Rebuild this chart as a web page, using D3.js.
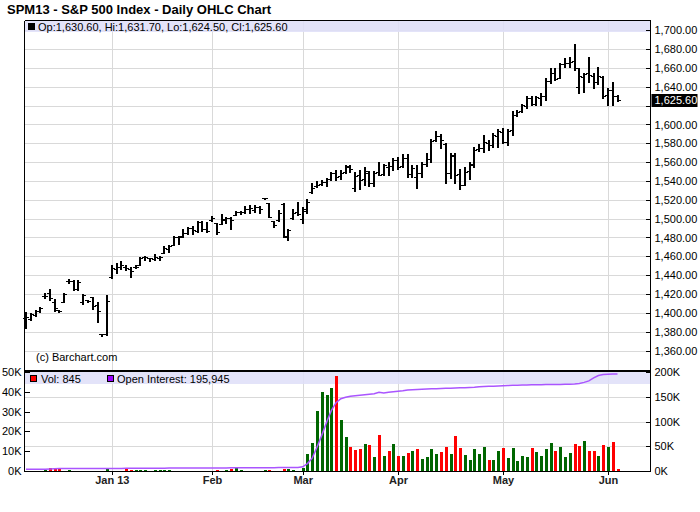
<!DOCTYPE html>
<html><head><meta charset="utf-8">
<script src="https://cdn.jsdelivr.net/npm/d3@7"></script>
<style>
body{margin:0;background:#fff}
svg{display:block}
text{font-family:"Liberation Sans",Arial,Helvetica,sans-serif;}
</style>
</head><body>
<svg id="chart" width="700" height="512"></svg>
<script>
const title = "SPM13 - S&P 500 Index - Daily OHLC Chart";

const dates = [
"2012-12-05","2012-12-06","2012-12-07","2012-12-10","2012-12-11","2012-12-12","2012-12-13","2012-12-14","2012-12-17","2012-12-18","2012-12-19","2012-12-20","2012-12-21","2012-12-24","2012-12-26","2012-12-27","2012-12-28","2012-12-31",
"2013-01-02","2013-01-03","2013-01-04","2013-01-07","2013-01-08","2013-01-09","2013-01-10","2013-01-11","2013-01-14","2013-01-15","2013-01-16","2013-01-17","2013-01-18","2013-01-22","2013-01-23","2013-01-24","2013-01-25","2013-01-28","2013-01-29","2013-01-30","2013-01-31",
"2013-02-01","2013-02-04","2013-02-05","2013-02-06","2013-02-07","2013-02-08","2013-02-11","2013-02-12","2013-02-13","2013-02-14","2013-02-15","2013-02-19","2013-02-20","2013-02-21","2013-02-22","2013-02-25","2013-02-26","2013-02-27","2013-02-28",
"2013-03-01","2013-03-04","2013-03-05","2013-03-06","2013-03-07","2013-03-08","2013-03-11","2013-03-12","2013-03-13","2013-03-14","2013-03-15","2013-03-18","2013-03-19","2013-03-20","2013-03-21","2013-03-22","2013-03-25","2013-03-26","2013-03-27","2013-03-28",
"2013-04-01","2013-04-02","2013-04-03","2013-04-04","2013-04-05","2013-04-08","2013-04-09","2013-04-10","2013-04-11","2013-04-12","2013-04-15","2013-04-16","2013-04-17","2013-04-18","2013-04-19","2013-04-22","2013-04-23","2013-04-24","2013-04-25","2013-04-26","2013-04-29","2013-04-30",
"2013-05-01","2013-05-02","2013-05-03","2013-05-06","2013-05-07","2013-05-08","2013-05-09","2013-05-10","2013-05-13","2013-05-14","2013-05-15","2013-05-16","2013-05-17","2013-05-20","2013-05-21","2013-05-22","2013-05-23","2013-05-24","2013-05-28","2013-05-29","2013-05-30","2013-05-31",
"2013-06-03","2013-06-04","2013-06-05"];

const opens = [1395,1393,1398,1402,1418,1421,1412,1402.5,1412,1434,1434,1425,1411,1414,1417,1408,1377.5,1377,
1438,1447,1449,1449,1447,1449,1451,1459,1458.5,1457,1458,1464,1468,1472,1480,1482,1485,1490,1487,1496,1489,
1499,1495,1494,1500,1501,1504,1507,1507,1510,1509,1512,1521.5,1516.5,1497,1499,1516,1482,1501,1507,
1500,1508,1528,1535,1537,1539,1542,1549,1545,1550,1555,1533,1546,1542,1549,1538,1550,1547,1555,1556,
1562,1556,1564,1547,1544,1548,1558,1563,1583,1588,1579,1549,1567,1547,1536,1551,1558,1574,1575,1580,1578,1588,
1592,1581,1594,1610,1614,1620,1628,1622,1628,1630,1646,1655,1649,1664,1665,1667,1640,1650,1655,1651,1645,1650,
1631,1637,1630.6];
const highs = [1401,1400,1403,1406,1421,1425,1415,1402.5,1421,1435.5,1435,1434.5,1420.5,1414,1417,1411.5,1378,1418.5,
1450.5,1453,1455,1450.5,1448.5,1450.5,1459,1460,1458.5,1462,1460,1471,1471.5,1482,1482,1488.5,1491,1492,1497.5,1497.5,1496.5,
1502.5,1495,1504.5,1502,1502,1508.5,1508.5,1513,1514.5,1514,1513,1521.5,1517,1498,1509,1517,1489.5,1510.5,1518,
1512,1520.5,1537.5,1540,1541,1543,1550,1551.5,1551.5,1557.5,1557.5,1550,1551.5,1555,1550.5,1550.5,1560.5,1558.5,1560,1564,
1565.5,1568.5,1568.5,1557.5,1557,1560.5,1570,1584.5,1593,1590,1580,1570,1569.5,1553,1555,1560.5,1576.5,1579,1589,1583.5,1590.5,1595,
1596,1595,1614.5,1615.5,1621.5,1630.5,1630.5,1630.5,1633,1649,1660,1660,1665,1671,1672,1685,1660,1654.5,1672,1654.5,1661,1651,
1638.5,1645.5,1631.7];
const lows = [1384,1392,1397,1401,1415.5,1414,1401.5,1400.5,1411.5,1432,1424.5,1424.5,1409.5,1411.5,1404,1390,1375,1376,
1437.5,1442,1447,1446,1438,1448,1450.5,1456.5,1455,1456.5,1456,1463.5,1464.5,1471.5,1473.5,1480.5,1483.5,1484,1486,1486.5,1486,
1498,1484,1494,1495,1489.5,1503.5,1505,1506,1506.5,1507,1506.5,1521,1501.5,1491,1498,1480.5,1477,1500,1503.5,
1495,1506,1527,1534,1535.5,1535,1541,1541,1542.5,1549,1549.5,1529,1532,1535.5,1535,1535,1546,1546,1546,1551.5,
1553,1555,1544.5,1544.5,1532.5,1544.5,1556,1560.5,1582,1575,1538,1543,1538,1532,1535.5,1542.5,1555,1572,1571,1573,1576.5,1576.5,
1580.5,1578,1589,1608.5,1613,1618,1620.5,1620.5,1620.5,1626,1644,1647,1649,1660.5,1661.5,1658,1633,1635,1645.5,1638.5,1643,1628.5,
1620.5,1620.5,1624.5];
const closes = [1396,1399,1402,1405,1418,1416,1405,1401.5,1420,1434,1425,1433,1419,1413,1407,1402,1377.5,1413,
1448,1448.5,1450.5,1448,1444,1449,1458,1459,1458,1459,1459.5,1469,1471,1480,1481,1485,1490,1488,1496,1489,1487,
1501,1486,1499,1501,1499,1507,1507.5,1510,1511,1512,1510,1521.5,1502,1493,1506,1481,1488,1506,1505,
1510,1518,1533,1536,1539,1542,1549,1544,1549,1556,1553,1545,1541,1551,1538,1549,1546.5,1557,1556,1562,
1555,1564,1547,1554,1548,1558,1563,1582,1588,1584,1548,1568,1546,1536,1550,1557,1573,1574.5,1581,1578,1589,1593,
1581,1593,1610,1613,1621,1628,1622,1629,1630,1646,1655,1648,1664,1665,1666,1660,1652,1654,1653,1645,1651,1630,
1637,1630.5,1625.6];
const volumes = [0,0,0,0,500,1500,1500,1500,0,500,0,0,0,0,0,0,0,1000,
0,0,0,1000,500,500,500,500,0,500,500,500,500,0,0,0,0,0,0,0,0,
0,500,0,500,1200,1500,500,0,0,0,0,500,500,0,0,1000,1000,500,0,
1700,8600,14300,30300,40000,38400,42000,48000,25800,17000,12000,10600,11000,13600,13100,7200,18200,7400,10100,13600,
7400,7400,9300,10100,11000,6000,7200,11000,8600,9600,12000,8600,17700,11800,8100,5600,11000,8600,12000,5800,5600,10100,
11800,6400,11500,5000,7400,7200,11500,9600,7400,10900,14000,10100,12000,7000,9000,13600,12600,15100,10100,10100,7400,13100,
12000,14500,845];
const openInterest = [3400,3400,3400,3500,3500,3900,4400,4800,4800,4900,4900,4900,4900,4900,4900,4900,4900,5300,
5300,5300,5300,5400,5500,5500,5500,5500,5500,5600,5700,5800,5900,5900,5900,5900,5900,5900,5900,5900,5900,
6000,6000,6000,6200,6500,6800,6800,6800,6800,6800,6800,6800,6800,6800,6900,7000,7000,7000,7200,
8500,15000,26000,48000,72000,98000,122000,138000,146000,149000,151000,152000,153000,154000,155000,156000,159000,157500,159000,160000,
161000,162000,163500,164000,164500,165000,165500,166000,166000,166500,167000,167000,167500,168000,168000,168500,169000,170000,170500,171000,171000,171500,
172000,172500,173000,173000,173500,173500,174000,174000,174000,174500,175000,175000,175000,175500,175500,176000,177000,179000,182000,188000,193000,195000,
195500,196000,195945];

const priceTicks = [1360,1380,1400,1420,1440,1460,1480,1500,1520,1540,1560,1580,1600,1620,1640,1660,1680,1700];
const volTicks = [0,10000,20000,30000,40000,50000];
const oiTicks = [0,50000,100000,150000,200000];
const monthTicks = ["2013-01-02","2013-02-01","2013-03-01","2013-04-01","2013-05-01","2013-06-03"];
const monthLabels = ["Jan 13","Feb","Mar","Apr","May","Jun"];

const svg = d3.select("#chart");
const L = 24.5, R = 650.5, T = 20.5, MID = 371, B = 471.5;

const x = d3.scalePoint().domain(dates).range([26, 617.5]);
const yP = d3.scaleLinear().domain([1360, 1700]).range([350.5, 30.3]);
const yV = d3.scaleLinear().domain([0, 50000]).range([471, 372]);
const yOI = d3.scaleLinear().domain([0, 200000]).range([471, 372]);
const px = d => Math.round(x(d));
const kfmt = d => (d / 1000) + "K";
const fmt2 = d3.format(",.2f");

// horizontal gridlines (price)
svg.append("g").selectAll("line").data(priceTicks).join("line")
  .attr("x1", L).attr("x2", R)
  .attr("y1", d => Math.round(yP(d)) + 0.5).attr("y2", d => Math.round(yP(d)) + 0.5)
  .attr("stroke", "#d9d9d9").attr("stroke-width", 1);
// horizontal gridlines (volume, at OI ticks)
svg.append("g").selectAll("line").data(oiTicks.slice(1, -1)).join("line")
  .attr("x1", L).attr("x2", R)
  .attr("y1", d => Math.round(yOI(d)) + 0.5).attr("y2", d => Math.round(yOI(d)) + 0.5)
  .attr("stroke", "#d9d9d9").attr("stroke-width", 1);
// vertical month gridlines
svg.append("g").selectAll("line").data(monthTicks).join("line")
  .attr("x1", d => px(d) + 0.5).attr("x2", d => px(d) + 0.5)
  .attr("y1", T).attr("y2", B)
  .attr("stroke", "#d9d9d9").attr("stroke-width", 1);

// legend bands
svg.append("rect").attr("x", L + 0.5).attr("y", T + 0.5).attr("width", R - L - 1).attr("height", 11)
  .attr("fill", "#dedef8").attr("opacity", 0.85);
svg.append("rect").attr("x", L + 0.5).attr("y", MID + 1).attr("width", R - L - 1).attr("height", 12)
  .attr("fill", "#dedef8").attr("opacity", 0.85);

// OHLC bars
const n = dates.length;
const bars = svg.append("g").attr("shape-rendering", "crispEdges");
const idx = d3.range(n);
bars.selectAll("rect.hl").data(idx).join("rect").attr("class", "hl")
  .attr("x", i => px(dates[i]) - 1).attr("width", 2)
  .attr("y", i => Math.round(yP(highs[i])))
  .attr("height", i => Math.max(1, Math.round(yP(lows[i])) - Math.round(yP(highs[i])) + 1))
  .attr("fill", "#000");
bars.selectAll("rect.op").data(idx).join("rect").attr("class", "op")
  .attr("x", i => px(dates[i]) - 3).attr("width", 2)
  .attr("y", i => Math.round(yP(opens[i]))).attr("height", 1).attr("fill", "#000");
bars.selectAll("rect.cl").data(idx).join("rect").attr("class", "cl")
  .attr("x", i => px(dates[i]) + 1).attr("width", 2)
  .attr("y", i => Math.round(yP(closes[i]))).attr("height", 1).attr("fill", "#000");

// volume bars
svg.append("g").attr("shape-rendering", "crispEdges").selectAll("rect").data(idx.filter(i => volumes[i] > 0)).join("rect")
  .attr("x", i => px(dates[i]) - 1).attr("width", 3)
  .attr("y", i => Math.round(yV(volumes[i])))
  .attr("height", i => 471 - Math.round(yV(volumes[i])))
  .attr("fill", i => (i > 0 && closes[i] < closes[i - 1]) ? "#ff0000" : "#006600");

// open interest line
svg.append("path").datum(idx)
  .attr("d", d3.line().x(i => x(dates[i])).y(i => yOI(openInterest[i])))
  .attr("fill", "none").attr("stroke", "#aa55ff").attr("stroke-width", 1.5);

// frame
const frame = svg.append("g").attr("shape-rendering", "crispEdges");
frame.append("line").attr("x1", L).attr("x2", R).attr("y1", T).attr("y2", T).attr("stroke", "#000");
frame.append("line").attr("x1", L).attr("x2", L).attr("y1", T).attr("y2", B).attr("stroke", "#000");
frame.append("line").attr("x1", R).attr("x2", R).attr("y1", T).attr("y2", B).attr("stroke", "#000");
frame.append("line").attr("x1", L).attr("x2", R).attr("y1", MID).attr("y2", MID).attr("stroke", "#000").attr("stroke-width", 2);
frame.append("line").attr("x1", L).attr("x2", R).attr("y1", B).attr("y2", B).attr("stroke", "#000");

// price axis (right)
const lastC = closes[n - 1];
const pAxis = svg.append("g").attr("transform", `translate(${R},0)`)
  .call(d3.axisRight(yP).tickValues(priceTicks).tickSize(-5).tickPadding(4).tickFormat(fmt2));
pAxis.select(".domain").remove();
pAxis.selectAll("line").attr("stroke", "#000").attr("shape-rendering", "crispEdges");
pAxis.selectAll("text").attr("font-size", 11).attr("fill", "#000").attr("font-family", null)
  .style("display", d => Math.abs(yP(d) - yP(lastC)) < 11 ? "none" : null);
// last price box
const ly = Math.round(yP(lastC));
svg.append("rect").attr("x", R + 1).attr("y", ly - 6).attr("width", 46).attr("height", 13).attr("fill", "#000");
svg.append("text").attr("x", R + 4).attr("y", ly).attr("dy", "0.35em").attr("font-size", 11).attr("fill", "#fff").text(fmt2(lastC));

// volume axis (left)
const vAxis = svg.append("g").attr("transform", `translate(${L},0)`)
  .call(d3.axisLeft(yV).tickValues(volTicks).tickSize(-5).tickPadding(3).tickFormat(kfmt));
vAxis.select(".domain").remove();
vAxis.selectAll("line").attr("stroke", "#000").attr("shape-rendering", "crispEdges");
vAxis.selectAll("text").attr("font-size", 11).attr("fill", "#000").attr("font-family", null);

// open interest axis (right)
const oAxis = svg.append("g").attr("transform", `translate(${R},0)`)
  .call(d3.axisRight(yOI).tickValues(oiTicks).tickSize(-5).tickPadding(4).tickFormat(kfmt));
oAxis.select(".domain").remove();
oAxis.selectAll("line").attr("stroke", "#000").attr("shape-rendering", "crispEdges");
oAxis.selectAll("text").attr("font-size", 11).attr("fill", "#000").attr("font-family", null);

// x axis
const xAxis = svg.append("g").attr("transform", `translate(0,${B})`)
  .call(d3.axisBottom(x).tickValues(monthTicks).tickSize(3).tickPadding(2)
    .tickFormat(d => monthLabels[monthTicks.indexOf(d)]));
xAxis.select(".domain").remove();
xAxis.selectAll("line").attr("stroke", "#000").attr("shape-rendering", "crispEdges");
xAxis.selectAll("text").attr("font-size", 11).attr("font-weight", "bold").attr("fill", "#222").attr("font-family", null);

// title
svg.append("text").attr("x", 7).attr("y", 14).attr("font-size", 13).attr("font-weight", "bold").attr("fill", "#000").text(title);

// price legend
svg.append("rect").attr("x", 28).attr("y", 23).attr("width", 7).attr("height", 7).attr("fill", "#000");
svg.append("text").attr("x", 38).attr("y", 30.5).attr("font-size", 11).attr("fill", "#000")
  .text(`Op:${fmt2(opens[n-1])}, Hi:${fmt2(highs[n-1])}, Lo:${fmt2(lows[n-1])}, Cl:${fmt2(closes[n-1])}`);

// volume legend
svg.append("rect").attr("x", 30.5).attr("y", 375.5).attr("width", 6).attr("height", 6).attr("fill", "#ff0000").attr("stroke", "#000");
svg.append("text").attr("x", 41).attr("y", 382.5).attr("font-size", 11).attr("fill", "#000").text(`Vol: ${d3.format(",")(volumes[n-1])}`);
svg.append("rect").attr("x", 107.5).attr("y", 375.5).attr("width", 6).attr("height", 6).attr("fill", "#9900ff").attr("stroke", "#000");
svg.append("text").attr("x", 117).attr("y", 382.5).attr("font-size", 11).attr("fill", "#000").text(`Open Interest: ${d3.format(",")(openInterest[n-1])}`);

// copyright
svg.append("text").attr("x", 36).attr("y", 361).attr("font-size", 11).attr("fill", "#000").text("(c) Barchart.com");
</script>
</body></html>
